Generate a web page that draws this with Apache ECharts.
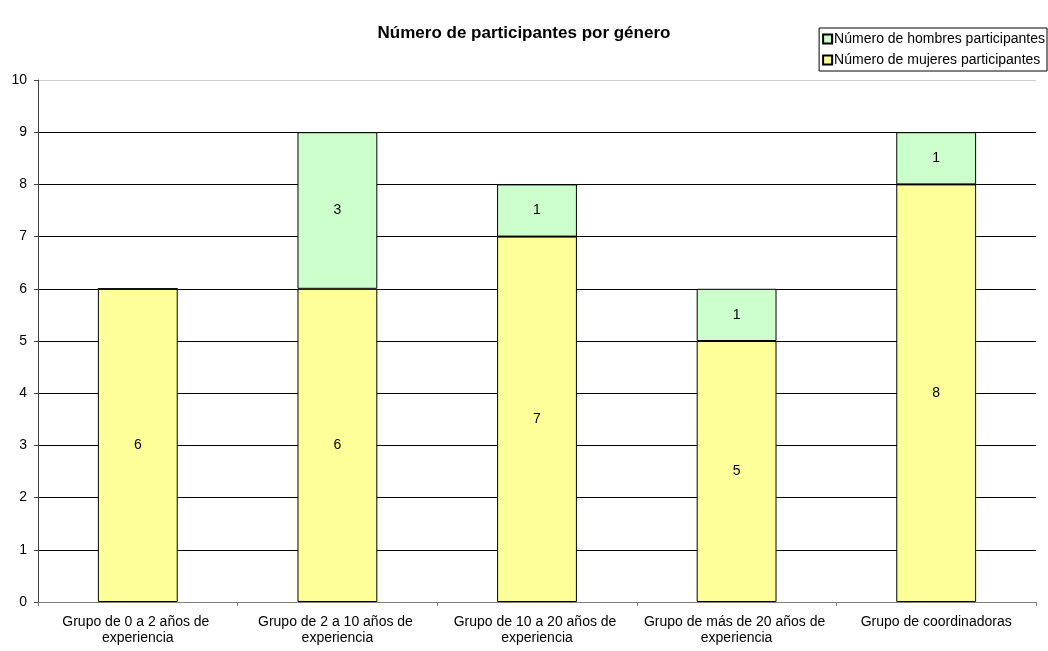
<!DOCTYPE html>
<html>
<head>
<meta charset="utf-8">
<script src="https://cdn.jsdelivr.net/npm/echarts@6/dist/echarts.min.js"></script>
<style>html,body{margin:0;padding:0;background:#fff}#c{width:1048px;height:651px}</style>
</head>
<body>
<div id="c"></div>
<script>
const categories = ["Grupo de 0 a 2 años de experiencia", "Grupo de 2 a 10 años de experiencia", "Grupo de 10 a 20 años de experiencia", "Grupo de más de 20 años de experiencia", "Grupo de coordinadoras"];
const mujeres = [6, 6, 7, 5, 8];
const hombres = [0, 3, 1, 1, 1];
const seriesNames = ["Número de hombres participantes", "Número de mujeres participantes"];
const titleText = "Número de participantes por género";

const FONT = "'Liberation Sans', Arial, sans-serif";
const FS = 14;
const chart = echarts.init(document.getElementById('c'));
const gridColors = [];
for (let i = 0; i < 10; i++) gridColors.push('#000');
gridColors.push('#d0d0d0');
const labelCfg = {
  show: true, position: 'inside', color: '#000', fontSize: FS, fontFamily: FONT,
  formatter: p => (p.value ? String(p.value) : '')
};
chart.setOption({
  animation: false,
  title: {
    text: titleText, left: 'center', top: 20,
    textStyle: { fontSize: 17, fontWeight: 'bold', color: '#000', fontFamily: FONT }
  },
  legend: {
    data: seriesNames, orient: 'vertical', right: 1, top: 28,
    borderColor: '#000', borderWidth: 1, padding: [3, 2, 3, 3],
    itemWidth: 9, itemHeight: 9, itemGap: 5, icon: 'rect',
    textStyle: { fontSize: FS, color: '#000', fontFamily: FONT, padding: [0, 0, 0, -3], lineHeight: 16 }
  },
  grid: { left: 38, right: 12, top: 80, bottom: 49 },
  xAxis: {
    type: 'category', data: categories,
    axisLine: { lineStyle: { color: '#808080', width: 1 } },
    axisTick: { show: true, length: 4, lineStyle: { color: '#808080' } },
    axisLabel: {
      color: '#000', fontSize: FS, fontFamily: FONT, margin: 12,
      width: 200, overflow: 'break', lineHeight: 16, interval: 0
    }
  },
  yAxis: {
    type: 'value', min: 0, max: 10, interval: 1,
    axisLine: { show: true, lineStyle: { color: '#404040' } },
    axisTick: { show: true, length: 4, lineStyle: { color: '#404040' } },
    axisLabel: { color: '#000', fontSize: FS, fontFamily: FONT, margin: 11 },
    splitLine: { show: true, lineStyle: { color: gridColors, width: 1 } }
  },
  series: [
    {
      name: seriesNames[1], type: 'bar', stack: 'total', data: mujeres, barWidth: '40%',
      itemStyle: { color: '#FFFF99', borderColor: '#000', borderWidth: 1 },
      label: labelCfg
    },
    {
      name: seriesNames[0], type: 'bar', stack: 'total', data: hombres, barWidth: '40%',
      itemStyle: { color: '#CCFFCC', borderColor: '#000', borderWidth: 1 },
      label: labelCfg
    }
  ]
});
</script>
</body>
</html>
